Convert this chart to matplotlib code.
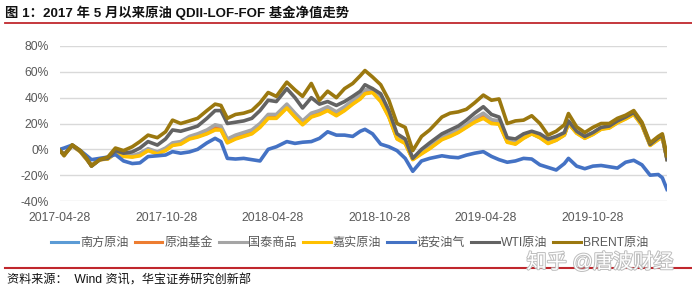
import matplotlib
matplotlib.use("Agg")
import matplotlib.pyplot as plt
import matplotlib.dates as mdates
import matplotlib.patheffects as pe
from matplotlib.lines import Line2D
import pandas as pd

plt.rcParams['font.family'] = ['Liberation Sans', 'Noto Sans CJK SC']
plt.rcParams['axes.unicode_minus'] = False

dates = [
    '2017-04-28', '2017-05-05', '2017-05-19', '2017-06-02', '2017-06-13', '2017-06-21',
    '2017-07-05', '2017-07-19', '2017-08-01', '2017-08-15', '2017-08-30', '2017-09-12',
    '2017-09-26', '2017-10-12', '2017-10-26', '2017-11-07', '2017-11-21', '2017-12-06',
    '2017-12-20', '2018-01-05', '2018-01-19', '2018-01-29', '2018-02-09', '2018-02-23',
    '2018-03-09', '2018-03-23', '2018-04-06', '2018-04-20', '2018-05-04', '2018-05-22',
    '2018-06-05', '2018-06-18', '2018-07-03', '2018-07-17', '2018-07-31', '2018-08-15',
    '2018-08-29', '2018-09-12', '2018-09-25', '2018-10-03', '2018-10-16', '2018-10-30',
    '2018-11-13', '2018-11-27', '2018-12-11', '2018-12-24', '2019-01-08', '2019-01-22',
    '2019-02-12', '2019-02-26', '2019-03-12', '2019-03-26', '2019-04-09', '2019-04-24',
    '2019-05-08', '2019-05-21', '2019-06-04', '2019-06-18', '2019-07-02', '2019-07-16',
    '2019-07-30', '2019-08-13', '2019-08-27', '2019-09-10', '2019-09-17', '2019-10-01',
    '2019-10-15', '2019-10-29', '2019-11-12', '2019-11-26', '2019-12-10', '2019-12-24',
    '2020-01-07', '2020-01-21', '2020-02-04', '2020-02-18', '2020-02-25', '2020-03-04',
]

# net value change since 2017-04-28, %
nanfang = [-1, -4, 3, -1.8, -7.8, -12.3, -7.8, -7.3, -2.8, -5,
           -5.6, -4.5, -0.6, -3, -0.5, 3.5, 4.5, 8.5, 10, 12.5,
           15.5, 15.5, 5.5, 8.5, 10.5, 12.5, 17.5, 24.5, 24.5, 32.5,
           25.5, 19.5, 25.5, 27.5, 30.5, 26.5, 30.5, 35.5, 39.5, 43.5,
           44.5, 37.5, 25.5, 8.5, 5, -7.6, -3, 1, 8, 10.5,
           13.5, 17.5, 21.5, 24.5, 20.5, 20, 6, 4.5, 9, 12.2,
           9.2, 5, 7.2, 11.2, 20.2, 12.8, 8.8, 11.8, 15.8, 16.8,
           20.8, 23.8, 27.3, 18.8, 3.3, 7.8, 9.3, -7.3]
yuanyou = [-1, -4, 3, -1.8, -7.8, -12.5, -8, -7.2, -2.5, -4.8,
           -5.5, -4, -0.3, -2.8, 0, 4, 5, 9, 10.8, 13.5,
           17, 16.5, 6.5, 9.5, 11.5, 13.5, 18.5, 25.5, 25.5, 33.5,
           26.5, 20.5, 26.5, 28.5, 31.5, 27.5, 31.5, 36.5, 40.5, 44.5,
           45.5, 38.5, 26, 9, 5.2, -7.5, -2.8, 1.2, 8.6, 11,
           14, 18, 22.5, 26, 21.5, 20.8, 6.2, 4.5, 9.2, 12.5,
           9.5, 5.2, 7.5, 11.5, 20.5, 13, 9, 12, 16, 17,
           21, 24, 27.5, 19, 3.5, 8, 9.5, -7.2]
guotai = [-1, -4, 3, -1.5, -7.5, -12.5, -8, -7, -2, -4,
          -5, -3, 0.5, -2, 1, 5, 6, 10, 12, 15,
          19, 18, 8, 11, 13, 15, 20, 27, 27, 35,
          28, 22, 28, 30, 33, 29, 33, 38, 42, 46,
          47, 40, 27, 10, 6, -7, -2, 2, 9.7, 12,
          15, 19, 24, 28, 23, 22, 7, 5, 10, 13,
          10, 6, 8, 12, 21, 13.5, 9.5, 12.5, 16.5, 17.5,
          21.5, 24.5, 28, 19.5, 4, 8.5, 10, -7]
jiashi = [-1, -4, 3, -2, -8, -12.5, -8, -7.5, -3, -5.5,
          -6, -5, -1, -3.5, -1, 3, 4, 8, 9.5, 12,
          15, 15, 5, 8, 10, 12, 17, 24, 24, 32,
          25, 19, 25, 27, 30, 26, 30, 35, 39, 43,
          44, 37, 25, 8, 4.5, -8, -3.5, 0.5, 7.5, 10,
          13, 17, 21, 24, 20, 19.5, 5.5, 4, 8.5, 12,
          9, 4.5, 7, 11, 20, 12.5, 8.5, 11.5, 15.5, 16.5,
          20.5, 23.5, 27, 18.5, 3, 7.5, 9, -7.5]
nuoan = [0, 1, 3.3, -1, -5, -8, -7, -6, -4, -9,
         -11, -10.5, -5.6, -5, -4.4, -1.8, -3, -2, 0, 5,
         8.5, 6, -7, -7.5, -7, -8, -9, 0, 2, 6,
         4.6, 5.5, 6, 8.5, 13.6, 11, 11, 10, 14, 15.5,
         12, 4, 2, -1, -7, -17, -9, -7, -5, -6,
         -6.5, -4.5, -3, -1.8, -5.5, -8, -10, -9, -7, -7.5,
         -12, -14, -16, -11, -7, -13, -15, -13, -12.5, -13.5,
         -14.5, -10, -8.5, -12, -20, -19.5, -22, -31]
wti = [-1, -4, 3, -1.5, -7.5, -13, -8, -7, -1, -3,
       -2, 1, 6, 3.3, 8, 15, 14, 16, 18, 24,
       30, 30, 20, 21, 22, 24, 30, 38, 37, 47,
       40, 32, 40, 35, 37, 34, 37, 41, 45, 50,
       47, 43, 30, 12, 8, -7, 0, 5, 12, 15,
       18, 22.6, 28, 33, 27, 25, 9, 8, 12, 14,
       12, 8, 10, 13, 22, 14, 10, 13, 17, 18,
       22, 25, 28.5, 20, 3.8, 9, 10.5, -8]
brent = [-1, -5, 3.5, -1, -7, -13, -8, -6, 1, -1,
         2, 6, 11, 9, 13.6, 22.6, 20, 22, 24, 30,
         35, 34, 24, 27, 28, 30, 36, 44, 41, 52,
         46, 41, 51, 38, 45, 40, 47, 51, 57, 61,
         56, 50, 38, 20, 17, -1, 10, 15, 25, 28,
         29, 31, 36, 42, 38, 39, 20, 22, 22.6, 26,
         20, 11, 14, 19, 27.7, 17.4, 13, 17, 20, 20,
         24, 26.4, 30, 21, 5, 10, 12, -5]

names = ['南方原油', '原油基金', '国泰商品', '嘉实原油', '诺安油气', 'WTI原油', 'BRENT原油']
series = [nanfang, yuanyou, guotai, jiashi, nuoan, wti, brent]
colors = ['#5B9BD5', '#ED7D31', '#A5A5A5', '#FFC000', '#4472C4', '#636363', '#9B780F']
tick_dates = ['2017-04-28', '2017-10-28', '2018-04-28', '2018-10-28', '2019-04-28', '2019-10-28']

x = pd.to_datetime(dates)

fig = plt.figure(figsize=(6.92, 2.9), dpi=100)
ax = fig.add_axes([60 / 692, 1 - 201 / 290, 607 / 692, 155 / 290])

for name, vals, c in zip(names, series, colors):
    ax.plot(x, vals, color=c, lw=2.6, label=name, solid_joinstyle='round')

ax.set_ylim(-40, 80)
ax.set_yticks(range(-40, 81, 20))
ax.set_yticklabels([f'{v}%' for v in range(-40, 81, 20)])
ax.set_xlim(x[0], x[-1])
ax.set_xticks(pd.to_datetime(tick_dates))
ax.xaxis.set_major_formatter(mdates.DateFormatter('%Y-%m-%d'))
ax.grid(axis='y', color='#D9D9D9', lw=1)
ax.set_axisbelow(True)
for s in ax.spines.values():
    s.set_visible(False)
ax.tick_params(axis='both', length=0, labelsize=8.7, labelcolor='#595959')
ax.tick_params(axis='y', pad=8)
ax.tick_params(axis='x', pad=8)

leg = ax.legend(loc='center', bbox_to_anchor=(0.505, 1 - 243 / 290), bbox_transform=fig.transFigure,
                ncol=7, frameon=False, fontsize=8.7, handlelength=2.3, handletextpad=0.15,
                columnspacing=0.5, labelcolor='#595959')
for h in leg.get_lines():
    h.set_linewidth(2.2)

# header / footer
fig.text(0.007, 1 - 12.5 / 290, '图 1：2017 年 5 月以来原油 QDII-LOF-FOF 基金净值走势',
         fontsize=9.6, fontweight='bold', va='center', ha='left', color='#111111')
fig.add_artist(Line2D([5 / 692, 1], [1 - 23 / 290] * 2, color='#C0272D', lw=1.3))
fig.add_artist(Line2D([5 / 692, 1], [1 - 268 / 290] * 2, color='#C0272D', lw=1.5))
fig.text(7 / 692, 1 - 281 / 290, '资料来源：  Wind 资讯，华宝证券研究创新部',
         fontsize=8.7, va='center', ha='left', color='#111111')
fig.text(600 / 692, 1 - 262 / 290, '知乎 @唐波财经', fontsize=14.5, ha='center', va='center',
         color='white', path_effects=[pe.withStroke(linewidth=1.4, foreground='#BDBDBD')])

fig.savefig('out.png', dpi=100)
